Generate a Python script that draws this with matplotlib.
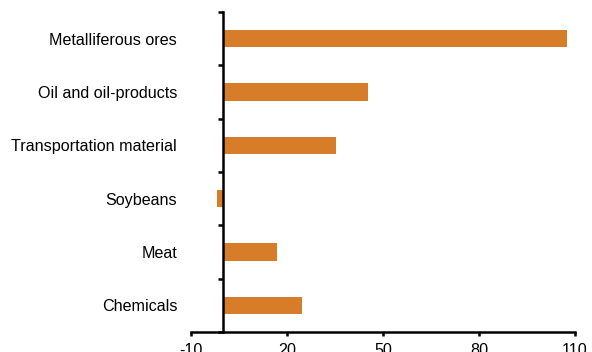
import numpy as np
import matplotlib.pyplot as plt

plt.rcParams['font.family'] = ['Liberation Sans', 'DejaVu Sans']
plt.rcParams['axes.unicode_minus'] = False

categories = ["Metalliferous ores", "Oil and oil-products", "Transportation material",
              "Soybeans", "Meat", "Chemicals"]
values = [107.5, 45.3, 35.3, -1.9, 16.8, 24.6]
xticks = [-10, 20, 50, 80, 110]

fig = plt.figure(figsize=(5.92, 3.52), dpi=100)
ax = fig.add_axes([191 / 592, 1 - 332 / 352, 384 / 592, 320 / 352])

ypos = np.arange(len(categories))
ax.barh(ypos, values, height=0.33, color='#D77D2A')

ax.set_xlim(-10, 110)
ax.set_ylim(5.5, -0.5)
ax.set_xticks(xticks)
ax.set_yticks(ypos)
ax.set_yticklabels(categories)
ax.set_yticks(np.arange(-0.5, 5.6, 1), minor=True)

for s in ['top', 'right']:
    ax.spines[s].set_visible(False)
ax.spines['left'].set_position(('data', 0))
ax.spines['left'].set_linewidth(1.8)
ax.spines['bottom'].set_linewidth(1.8)

ax.tick_params(axis='y', which='major', length=0, pad=33, labelsize=11.6)
ax.tick_params(axis='y', which='minor', length=3.5, width=1.8, direction='out')
ax.tick_params(axis='x', which='major', length=3, width=1.8, direction='out',
               labelsize=11.6, pad=5)

fig.savefig('out.png', dpi=100)
